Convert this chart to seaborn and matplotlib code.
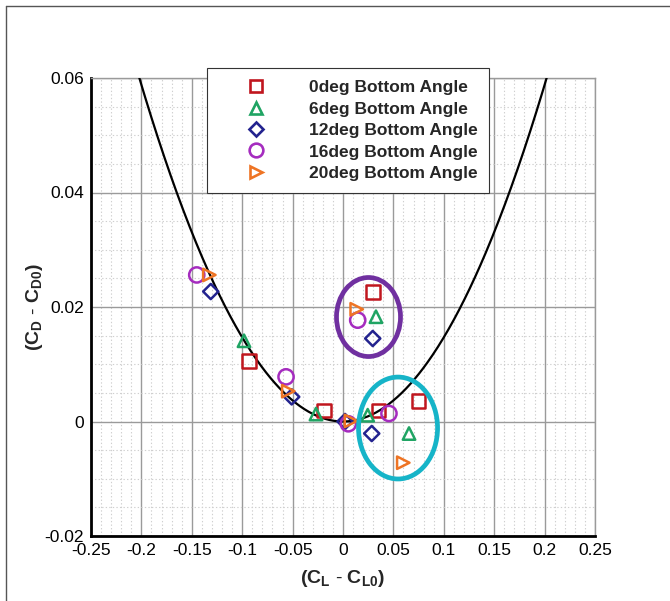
import numpy as np
import pandas as pd
import matplotlib
matplotlib.use("Agg")
import matplotlib.pyplot as plt
import seaborn as sns
from matplotlib.patches import Ellipse
from matplotlib.lines import Line2D
from matplotlib.ticker import MultipleLocator, FixedLocator

# ---- data ----
series_labels = ["0deg Bottom Angle", "6deg Bottom Angle", "12deg Bottom Angle",
                 "16deg Bottom Angle", "20deg Bottom Angle"]

cl_0deg = [-0.0933, -0.0188, 0.0350, 0.0747, 0.0300]
cd_0deg = [0.0106, 0.0019, 0.0019, 0.0036, 0.0226]

cl_6deg = [-0.0982, -0.0268, 0.0245, 0.0655, 0.0327]
cd_6deg = [0.0141, 0.0013, 0.0011, -0.0021, 0.0183]

cl_12deg = [-0.1312, -0.0509, 0.0020, 0.0285, 0.0295]
cd_12deg = [0.0227, 0.0043, 0.0000, -0.0021, 0.0145]

cl_16deg = [-0.1451, -0.0565, 0.0053, 0.0456, 0.0146]
cd_16deg = [0.0256, 0.0078, -0.0004, 0.0014, 0.0177]

cl_20deg = [-0.1326, -0.0543, 0.0079, 0.0136, 0.0598]
cd_20deg = [0.0256, 0.0053, 0.0001, 0.0196, -0.0072]

# drag-polar fit curve: (CD - CD0) = K * (CL - CL0)^2
curve_k = 1.47

x_ticks = [-0.25, -0.2, -0.15, -0.1, -0.05, 0, 0.05, 0.1, 0.15, 0.2, 0.25]
x_tick_labels = ["-0.25", "-0.2", "-0.15", "-0.1", "-0.05", "0", "0.05", "0.1", "0.15", "0.2", "0.25"]
y_ticks = [-0.02, 0, 0.02, 0.04, 0.06]
y_tick_labels = ["-0.02", "0", "0.02", "0.04", "0.06"]

# ---- styling ----
sns.set_style("white")
plt.rcParams["font.family"] = ["Liberation Sans", "DejaVu Sans"]
plt.rcParams["mathtext.fontset"] = "custom"
plt.rcParams["mathtext.rm"] = "Liberation Sans"
plt.rcParams["mathtext.bf"] = "Liberation Sans:bold"
plt.rcParams["mathtext.it"] = "Liberation Sans:italic"

colors = ["#c0161e", "#1fa463", "#23238f", "#a52cbf", "#ee7424"]
markers = ["s", "^", "D", "o", ">"]
msizes = [95, 80, 60, 120, 80]

fig = plt.figure(figsize=(6.70, 6.01), dpi=100)
ax = fig.add_axes([91 / 670, 1 - 536 / 601, (595 - 91) / 670, (536 - 78) / 601])

# grid
ax.xaxis.set_major_locator(FixedLocator(x_ticks))
ax.yaxis.set_major_locator(FixedLocator(y_ticks))
ax.xaxis.set_minor_locator(MultipleLocator(0.01))
ax.yaxis.set_minor_locator(MultipleLocator(0.005))
ax.grid(which="major", color="#9a9a9a", linewidth=1.0, linestyle="-", zorder=0)
ax.grid(which="minor", color="#cfcfcf", linewidth=0.8, linestyle=(0, (1.2, 2.0)), zorder=0)
ax.set_axisbelow(True)

# curve
cx = np.linspace(-0.21, 0.21, 400)
curve_df = pd.DataFrame({"x": cx, "y": curve_k * cx ** 2})
sns.lineplot(data=curve_df, x="x", y="y", color="black", linewidth=1.6, ax=ax,
             sort=False, zorder=3)

# points
all_cl = [cl_0deg, cl_6deg, cl_12deg, cl_16deg, cl_20deg]
all_cd = [cd_0deg, cd_6deg, cd_12deg, cd_16deg, cd_20deg]
handles = []
for lab, xs, ys, c, m, s in zip(series_labels, all_cl, all_cd, colors, markers, msizes):
    df = pd.DataFrame({"x": xs, "y": ys})
    sns.scatterplot(data=df, x="x", y="y", marker=m, s=s, facecolor="none",
                    edgecolor=c, linewidth=1.8, ax=ax, zorder=4, legend=False)
    handles.append(Line2D([], [], linestyle="none", marker=m, markersize=np.sqrt(s) * 0.9,
                          markerfacecolor="none", markeredgecolor=c, markeredgewidth=1.9))

# highlight ellipses
ax.add_patch(Ellipse((0.0253, 0.01825), 0.0635, 0.0138, fill=False,
                     edgecolor="#7030a0", linewidth=3.4, zorder=5))
ax.add_patch(Ellipse((0.0546, -0.00114), 0.0784, 0.0178, fill=False,
                     edgecolor="#16b4c8", linewidth=3.4, zorder=5))

ax.set_xlim(-0.25, 0.25)
ax.set_ylim(-0.02, 0.06)
ax.set_xticklabels(x_tick_labels)
ax.set_yticklabels(y_tick_labels)
ax.tick_params(axis="both", which="major", direction="in", length=7, width=1.5,
               labelsize=12.5, colors="black", labelcolor="black")
ax.tick_params(axis="both", which="minor", direction="in", length=4, width=0.8)
ax.tick_params(axis="y", pad=5)
ax.tick_params(axis="x", pad=5)

for side in ["left", "bottom"]:
    ax.spines[side].set_color("black")
    ax.spines[side].set_linewidth(2.0)
for side in ["top", "right"]:
    ax.spines[side].set_color("#9a9a9a")
    ax.spines[side].set_linewidth(1.0)

ax.set_xlabel(r"$\mathbf{(C_L\ \text{-}\ C_{L0})}$", fontsize=14, labelpad=7)
ax.set_ylabel(r"$\mathbf{(C_D\ \text{-}\ C_{D0})}$", fontsize=14, labelpad=0)

leg = fig.legend(handles=handles, labels=series_labels, loc="upper left",
                 bbox_to_anchor=(207 / 670, 1 - 68 / 601), borderaxespad=0,
                 prop={"weight": "bold", "size": 12.5}, frameon=True, fancybox=False,
                 edgecolor="#333333", framealpha=1, handlelength=4.3, handletextpad=0.85,
                 labelspacing=0.36, borderpad=0.7)
leg.get_frame().set_linewidth(0.8)

# outer frame lines of the figure
fig.add_artist(Line2D([6 / 670, 1.0], [1 - 6 / 601, 1 - 6 / 601], color="#555555", linewidth=1.0))
fig.add_artist(Line2D([6 / 670, 6 / 670], [0.0, 1 - 6 / 601], color="#555555", linewidth=1.0))

fig.savefig("out.png", dpi=100)
